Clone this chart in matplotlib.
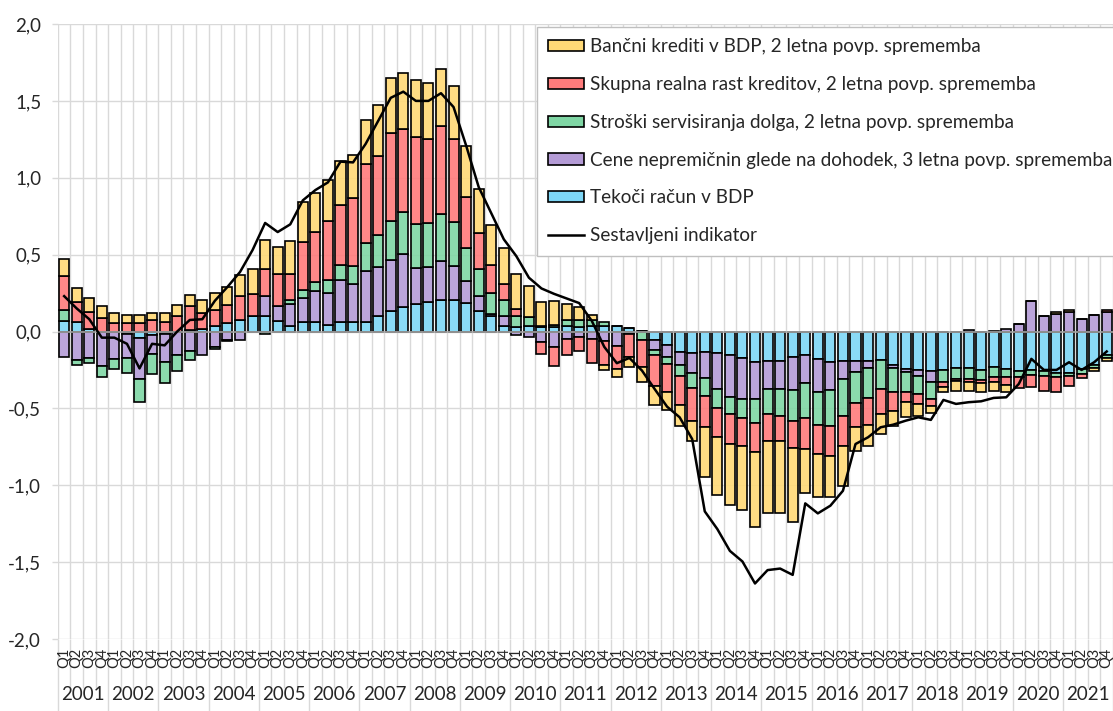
import matplotlib.pyplot as plt
import matplotlib.colors as mcolors
from matplotlib.patches import Patch
from matplotlib.lines import Line2D
import numpy as np

plt.rcParams['font.family'] = ['Lato', 'Noto Sans', 'DejaVu Sans']

leta = list(range(2001, 2022))
kvartali = ["Q1", "Q2", "Q3", "Q4"] * len(leta)

# vrednosti odcitane s slike, 2001Q1 - 2021Q4
tekoci_racun = [0.067, 0.059, 0.017, 0.0, 0.0, -0.015, -0.043, -0.02, -0.015, 0.0, 0.013, 0.017,
                0.033, 0.054, 0.076, 0.098, 0.104, 0.067, 0.039, 0.065, 0.061, 0.043, 0.065, 0.065,
                0.065, 0.104, 0.132, 0.159, 0.18, 0.195, 0.208, 0.202, 0.185, 0.132, 0.1, 0.039,
                0.028, 0.039, 0.028, 0.03, 0.033, 0.028, 0.033, 0.039, 0.039, 0.024, 0.005, -0.058,
                -0.091, -0.135, -0.141, -0.135, -0.141, -0.15, -0.172, -0.2, -0.189, -0.189, -0.167, -0.152,
                -0.18, -0.197, -0.195, -0.189, -0.189, -0.185, -0.221, -0.243, -0.25, -0.258, -0.25, -0.239,
                -0.239, -0.25, -0.228, -0.243, -0.254, -0.25, -0.26, -0.27, -0.27, -0.245, -0.22, -0.15]
cene_nepremicnin = [-0.167, -0.185, -0.172, -0.222, -0.178, -0.156, -0.265, -0.124, -0.185, -0.156, -0.124, -0.15,
                    -0.098, -0.054, -0.054, 0.0, 0.126, 0.098, 0.141, 0.152, 0.2, 0.209, 0.267, 0.241,
                    0.326, 0.315, 0.333, 0.347, 0.233, 0.224, 0.248, 0.224, 0.143, 0.1, 0.015, 0.065,
                    -0.02, -0.037, -0.07, -0.102, -0.05, -0.033, -0.048, -0.06, -0.096, -0.015, 0.0, -0.061,
                    -0.076, -0.086, -0.13, -0.167, -0.232, -0.278, -0.267, -0.239, -0.184, -0.184, -0.213, -0.18,
                    -0.213, -0.185, -0.113, -0.072, -0.046, 0.0, -0.016, -0.022, -0.037, -0.072, 0.0, 0.0,
                    0.01, 0.0, 0.005, 0.017, 0.046, 0.198, 0.104, 0.115, 0.126, 0.083, 0.109, 0.125]
stroski_dolga = [0.072, -0.03, -0.035, -0.071, -0.069, -0.1, -0.152, -0.13, -0.137, -0.098, -0.061, 0.0,
                 -0.015, -0.01, 0.0, 0.0, -0.015, 0.0, 0.022, 0.054, 0.058, 0.085, 0.098, 0.117,
                 0.187, 0.211, 0.253, 0.271, 0.288, 0.287, 0.311, 0.286, 0.217, 0.176, 0.137, 0.104,
                 0.076, 0.054, 0.005, 0.015, 0.04, 0.048, 0.043, 0.022, 0.0, 0.0, -0.054, -0.037,
                 -0.044, -0.066, -0.096, -0.115, -0.124, -0.108, -0.123, -0.158, -0.163, -0.174, -0.2, -0.228,
                 -0.213, -0.23, -0.239, -0.206, -0.197, -0.188, -0.158, -0.13, -0.119, -0.109, -0.08, -0.07,
                 -0.07, -0.065, -0.065, -0.054, -0.04, -0.03, -0.03, -0.025, -0.02, -0.03, -0.02, -0.02]
realna_rast = [0.219, 0.132, 0.111, 0.085, 0.056, 0.056, 0.056, 0.076, 0.059, 0.1, 0.154, 0.105,
               0.106, 0.12, 0.156, 0.143, 0.178, 0.206, 0.169, 0.313, 0.33, 0.38, 0.391, 0.443,
               0.514, 0.512, 0.576, 0.537, 0.565, 0.543, 0.569, 0.543, 0.33, 0.235, 0.178, 0.103,
               0.044, 0.0, -0.075, -0.12, -0.105, -0.093, -0.16, -0.16, -0.147, -0.148, -0.178, -0.196,
               -0.184, -0.189, -0.213, -0.202, -0.191, -0.196, -0.181, -0.189, -0.178, -0.167, -0.18, -0.206,
               -0.193, -0.196, -0.196, -0.156, -0.174, -0.163, -0.12, -0.065, -0.065, -0.043, -0.028, -0.015,
               -0.02, -0.02, -0.037, -0.048, -0.075, -0.08, -0.1, -0.1, -0.065, -0.025, 0.0, 0.015]
bancni_krediti = [0.111, 0.093, 0.089, 0.084, 0.066, 0.053, 0.053, 0.046, 0.063, 0.074, 0.07, 0.08,
                  0.111, 0.115, 0.135, 0.163, 0.185, 0.178, 0.217, 0.256, 0.254, 0.271, 0.286, 0.285,
                  0.287, 0.33, 0.358, 0.365, 0.369, 0.369, 0.373, 0.345, 0.332, 0.284, 0.265, 0.234,
                  0.228, 0.2, 0.162, 0.155, 0.107, 0.084, 0.034, -0.03, -0.055, -0.069, -0.098, -0.124,
                  -0.115, -0.136, -0.134, -0.326, -0.376, -0.395, -0.419, -0.484, -0.469, -0.469, -0.477, -0.287,
                  -0.28, -0.269, -0.265, -0.157, -0.137, -0.131, -0.097, -0.098, -0.076, -0.05, -0.037, -0.06,
                  -0.06, -0.058, -0.059, -0.05, 0.0, 0.0, 0.0, 0.011, 0.015, 0.0, -0.02, -0.02]
indikator = [0.23, 0.15, 0.08, -0.04, -0.04, -0.08, -0.24, -0.08, -0.09, 0.0, 0.075, 0.08,
             0.2, 0.29, 0.387, 0.53, 0.706, 0.647, 0.697, 0.853, 0.92, 0.97, 1.105, 1.10,
             1.22, 1.37, 1.52, 1.56, 1.50, 1.50, 1.55, 1.46, 1.21, 0.94, 0.77, 0.60,
             0.49, 0.35, 0.28, 0.245, 0.215, 0.185, 0.07, -0.1, -0.206, -0.172, -0.254, -0.373,
             -0.489, -0.558, -0.70, -1.17, -1.285, -1.427, -1.496, -1.639, -1.552, -1.542, -1.583, -1.118,
             -1.183, -1.133, -1.036, -0.732, -0.688, -0.623, -0.606, -0.58, -0.558, -0.575, -0.445, -0.471,
             -0.46, -0.454, -0.432, -0.428, -0.341, -0.178, -0.25, -0.25, -0.2, -0.25, -0.2, -0.13]

# vrstni red zlaganja (od osi navzven)
serije = [
    ("Tekoči račun v BDP", tekoci_racun, "#7dd6f6"),
    ("Cene nepremičnin glede na dohodek, 3 letna povp. sprememba", cene_nepremicnin, "#b49bd6"),
    ("Stroški servisiranja dolga, 2 letna povp. sprememba", stroski_dolga, "#7fd6a4"),
    ("Skupna realna rast kreditov, 2 letna povp. sprememba", realna_rast, "#ff7b7b"),
    ("Bančni krediti v BDP, 2 letna povp. sprememba", bancni_krediti, "#ffd976"),
]

fig = plt.figure(figsize=(11.13, 7.11), dpi=100)
ax = fig.add_axes([0.052, 0.1013, 0.948, 0.8649])

x = np.arange(len(kvartali))
pos = np.zeros(len(x))
neg = np.zeros(len(x))
handles = []
for ime, vals, barva in serije:
    v = np.array(vals)
    bottom = np.where(v >= 0, pos, neg)
    ax.bar(x, v, 0.8, bottom=bottom, color=mcolors.to_rgba(barva, 0.9),
           edgecolor='black', linewidth=1.2, zorder=2)
    pos = pos + np.clip(v, 0, None)
    neg = neg + np.clip(v, None, 0)
    handles.append(Patch(facecolor=barva, edgecolor='black', linewidth=1.2, label=ime))

ax.axhline(0, color='#a6a6a6', linewidth=1.2, zorder=3)
ax.plot(x, indikator, color='black', linewidth=1.8, zorder=4)

ax.set_ylim(-2, 2)
ax.set_xlim(-0.5, 82.7)
ax.set_yticks(np.arange(-2, 2.01, 0.5))
ax.set_yticklabels([f"{t:.1f}".replace('.', ',') for t in np.arange(-2, 2.01, 0.5)])
ax.tick_params(axis='y', length=4, color='#d9d9d9', width=1, pad=8, labelsize=13.5, labelcolor='#262626')

# razmejitve let (dolge) in cetrtletij (kratke)
meje_let = np.arange(-0.5, len(x), 4)
meje_q = [b for b in np.arange(-0.5, len(x) + 0.5, 1) if (b + 0.5) % 4 != 0]
ax.set_xticks(meje_let)
ax.set_xticks(meje_q, minor=True)
ax.tick_params(axis='x', which='major', length=52, color='#d9d9d9', width=1, labelbottom=False)
ax.tick_params(axis='x', which='minor', length=35, color='#d9d9d9', width=1, labelbottom=False)
ax.grid(True, which='both', axis='x', color='#d9d9d9', linewidth=1)
ax.grid(True, which='major', axis='y', color='#d9d9d9', linewidth=1)
ax.set_axisbelow(True)
for s in ax.spines.values():
    s.set_visible(False)

tr = ax.get_xaxis_transform()
for i, q in enumerate(kvartali):
    ax.text(i, -0.031, q, transform=tr, rotation=90, ha='center', va='center',
            fontsize=10.5, color='#262626', clip_on=False)
for k, leto in enumerate(leta):
    ax.text(4 * k + 1.5, -0.091, str(leto), transform=tr, ha='center', va='center',
            fontsize=13.5, color='#262626', clip_on=False)

handles = handles[::-1]
handles.append(Line2D([], [], color='black', linewidth=1.8, label="Sestavljeni indikator"))
leg = fig.legend(handles=handles, loc='upper left', bbox_to_anchor=(0.4825, 0.962),
                 borderaxespad=0, fontsize=13.6, frameon=True, fancybox=False, framealpha=1,
                 edgecolor='#bfbfbf', handlelength=1.9, handleheight=0.55,
                 handletextpad=0.3, labelspacing=1.1, borderpad=0.6)
leg.get_frame().set_linewidth(1)
for t in leg.get_texts():
    t.set_color('#262626')

fig.savefig("out.png", dpi=100)
